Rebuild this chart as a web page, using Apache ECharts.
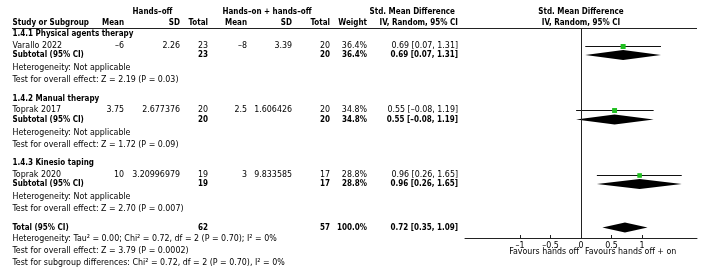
<!DOCTYPE html>
<html>
<head>
<meta charset="utf-8">
<script src="https://cdn.jsdelivr.net/npm/echarts@6/dist/echarts.min.js"></script>
<style>
html, body { margin: 0; padding: 0; background: #fff; }
#forest { width: 712px; height: 270px; }
</style>
</head>
<body>
<div id="forest"></div>
<script>
// 亚组名称与研究
var groupNames = ['1.4.1 Physical agents therapy', '1.4.2 Manual therapy', '1.4.3 Kinesio taping'];
var studyNames = ['Varallo 2022', 'Toprak 2017', 'Toprak 2020'];
// Hands-off 组
var meanOff = ['-6', '3.75', '10'];
var sdOff = ['2.26', '2.677376', '3.20996979'];
var totalOff = [23, 20, 19];
// Hands-on + hands-off 组
var meanOn = ['-8', '2.5', '3'];
var sdOn = ['3.39', '1.606426', '9.833585'];
var totalOn = [20, 20, 17];
// 权重与效应量
var weights = [36.4, 34.8, 28.8];
var smd = [0.69, 0.55, 0.96];
var ciLow = [0.07, -0.08, 0.26];
var ciHigh = [1.31, 1.19, 1.65];
var overallTests = ['Z = 2.19 (P = 0.03)', 'Z = 1.72 (P = 0.09)', 'Z = 2.70 (P = 0.007)'];
// 合并结果
var pooledSmd = 0.72;
var pooledLow = 0.35;
var pooledHigh = 1.09;
var pooledOff = 62;
var pooledOn = 57;
var pooledHeterogeneity = 'Heterogeneity: Tau² = 0.00; Chi² = 0.72, df = 2 (P = 0.70); I² = 0%';
var pooledTest = 'Test for overall effect: Z = 3.79 (P = 0.0002)';
var subgroupTest = 'Test for subgroup differences: Chi² = 0.72, df = 2 (P = 0.70), I² = 0%';
// 坐标轴刻度
var tickValues = [-1, -0.5, 0, 0.5, 1];

var FONT = '"DejaVu Sans Condensed", "DejaVu Sans"';
var FS = 8.8;
var FSB = 8;
// 列位置（右对齐，第一列左对齐）
var colX = [12.5, 124, 180, 208, 247, 292, 330, 367, 458];

function dash(s) {
    return String(s).replace(/-/g, '\u2013');
}
function ciText(e, lo, hi) {
    return dash(e.toFixed(2) + ' [' + lo.toFixed(2) + ', ' + hi.toFixed(2) + ']');
}
function font(bold) {
    return bold ? 'bold ' + FSB + 'px ' + FONT : FS + 'px ' + FONT;
}

var cells = [];
var studyRows = [];
var subtotalRows = [];
var y = 6;
for (var g = 0; g < groupNames.length; g++) {
    cells.push({ y: y, col: 0, text: groupNames[g], bold: true });
    y += 11.7;
    cells.push({ y: y, col: 0, text: studyNames[g] });
    cells.push({ y: y, col: 1, text: dash(meanOff[g]) });
    cells.push({ y: y, col: 2, text: sdOff[g] });
    cells.push({ y: y, col: 3, text: totalOff[g] });
    cells.push({ y: y, col: 4, text: dash(meanOn[g]) });
    cells.push({ y: y, col: 5, text: sdOn[g] });
    cells.push({ y: y, col: 6, text: totalOn[g] });
    cells.push({ y: y, col: 7, text: weights[g].toFixed(1) + '%' });
    cells.push({ y: y, col: 8, text: ciText(smd[g], ciLow[g], ciHigh[g]) });
    studyRows.push(y);
    y += 9.3;
    cells.push({ y: y, col: 0, text: 'Subtotal (95% CI)', bold: true });
    cells.push({ y: y, col: 3, text: totalOff[g], bold: true });
    cells.push({ y: y, col: 6, text: totalOn[g], bold: true });
    cells.push({ y: y, col: 7, text: weights[g].toFixed(1) + '%', bold: true });
    cells.push({ y: y, col: 8, text: ciText(smd[g], ciLow[g], ciHigh[g]), bold: true });
    subtotalRows.push(y);
    y += 13;
    cells.push({ y: y, col: 0, text: 'Heterogeneity: Not applicable' });
    y += 12;
    cells.push({ y: y, col: 0, text: 'Test for overall effect: ' + overallTests[g] });
    y += 18.5;
}
var totalRow = y;
cells.push({ y: y, col: 0, text: 'Total (95% CI)', bold: true });
cells.push({ y: y, col: 3, text: pooledOff, bold: true });
cells.push({ y: y, col: 6, text: pooledOn, bold: true });
cells.push({ y: y, col: 7, text: '100.0%', bold: true });
cells.push({ y: y, col: 8, text: ciText(pooledSmd, pooledLow, pooledHigh), bold: true });
y += 11.5;
cells.push({ y: y, col: 0, text: pooledHeterogeneity });
y += 12;
cells.push({ y: y, col: 0, text: pooledTest });
y += 12;
cells.push({ y: y, col: 0, text: subgroupTest });

// 亚组合并菱形 + 总体菱形
var diamonds = [];
for (var i = 0; i < smd.length; i++) {
    diamonds.push([ciLow[i], smd[i], ciHigh[i], subtotalRows[i]]);
}
diamonds.push([pooledLow, pooledSmd, pooledHigh, totalRow]);

var studyData = [];
for (var j = 0; j < smd.length; j++) {
    studyData.push([ciLow[j], smd[j], ciHigh[j], studyRows[j], weights[j]]);
}

function headText(x, yy, text, align, bold) {
    return {
        type: 'text', x: x, y: yy, silent: true,
        style: {
            text: text, x: 0, y: 0, align: align, verticalAlign: 'middle',
            font: font(bold), fill: '#000'
        }
    };
}

var chart = echarts.init(document.getElementById('forest'), null, { renderer: 'canvas' });
var option = {
    backgroundColor: '#fff',
    animation: false,
    grid: { left: 465, right: 15, top: 28, bottom: 32 },
    xAxis: {
        type: 'value', min: -1.9, max: 1.9, position: 'bottom',
        axisLine: { show: true, onZero: false, lineStyle: { color: '#222', width: 1 } },
        axisTick: { show: true, inside: true, length: 3, customValues: tickValues, lineStyle: { color: '#222' } },
        axisLabel: {
            customValues: tickValues, margin: 3, color: '#000',
            fontFamily: 'DejaVu Sans Condensed', fontSize: FS,
            formatter: function(v) { return dash(v); }
        },
        splitLine: { show: false }
    },
    yAxis: { type: 'value', min: 0, max: 210, inverse: true, show: false },
    graphic: [
        headText(152.5, 12, 'Hands\u2013off', 'center', true),
        headText(267, 12, 'Hands\u2013on + hands\u2013off', 'center', true),
        headText(455, 12, 'Std. Mean Difference', 'right', true),
        headText(581, 12, 'Std. Mean Difference', 'center', true),
        headText(12.5, 23, 'Study or Subgroup', 'left', true),
        headText(124, 23, 'Mean', 'right', true),
        headText(180, 23, 'SD', 'right', true),
        headText(208, 23, 'Total', 'right', true),
        headText(247, 23, 'Mean', 'right', true),
        headText(292, 23, 'SD', 'right', true),
        headText(330, 23, 'Total', 'right', true),
        headText(367, 23, 'Weight', 'right', true),
        headText(458, 23, 'IV, Random, 95% CI', 'right', true),
        headText(581, 23, 'IV, Random, 95% CI', 'center', true),
        headText(579, 252, 'Favours hands off', 'right', false),
        headText(585, 252, 'Favours hands off + on', 'left', false),
        {
            type: 'line', silent: true,
            shape: { x1: 12, y1: 28.5, x2: 697, y2: 28.5 },
            style: { stroke: '#222', lineWidth: 1 }
        }
    ],
    series: [
        {
            // 表格文字
            type: 'custom', clip: false, silent: true,
            data: cells.map(function(c) { return [0, c.y]; }),
            renderItem: function(params, api) {
                var c = cells[params.dataIndex];
                var p = api.coord([0, api.value(1)]);
                return {
                    type: 'text',
                    x: colX[c.col], y: p[1],
                    style: {
                        text: String(c.text), x: 0, y: 0,
                        align: c.col === 0 ? 'left' : 'right', verticalAlign: 'middle',
                        font: font(c.bold), fill: '#000'
                    }
                };
            },
            markLine: {
                silent: true, symbol: 'none', label: { show: false },
                lineStyle: { color: '#222', width: 1, type: 'solid' },
                data: [{ xAxis: 0 }]
            }
        },
        {
            // 单个研究：置信区间与方块
            type: 'custom', clip: false, silent: true,
            data: studyData,
            renderItem: function(params, api) {
                var lo = api.coord([api.value(0), api.value(3)]);
                var mid = api.coord([api.value(1), api.value(3)]);
                var hi = api.coord([api.value(2), api.value(3)]);
                var yy = Math.round(mid[1]) + 0.5;
                var s = 3 + api.value(4) / 18;
                return {
                    type: 'group',
                    children: [
                        { type: 'line', shape: { x1: lo[0], y1: yy, x2: hi[0], y2: yy }, style: { stroke: '#111', lineWidth: 1 } },
                        { type: 'rect', shape: { x: mid[0] - s / 2, y: yy - s / 2, width: s, height: s }, style: { fill: '#1fbf1f' } }
                    ]
                };
            }
        },
        {
            // 合并效应菱形
            type: 'custom', clip: false, silent: true,
            data: diamonds,
            renderItem: function(params, api) {
                var lo = api.coord([api.value(0), api.value(3)]);
                var mid = api.coord([api.value(1), api.value(3)]);
                var hi = api.coord([api.value(2), api.value(3)]);
                var h = 5;
                return {
                    type: 'polygon',
                    shape: { points: [[lo[0], mid[1]], [mid[0], mid[1] - h], [hi[0], mid[1]], [mid[0], mid[1] + h]] },
                    style: { fill: '#000' }
                };
            }
        }
    ]
};
chart.setOption(option);
</script>
</body>
</html>
